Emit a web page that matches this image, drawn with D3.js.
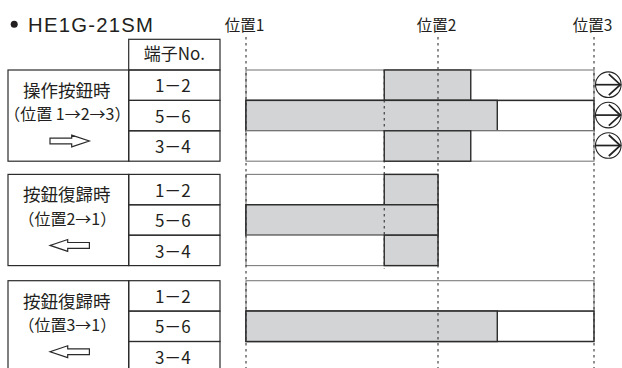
<!DOCTYPE html>
<html>
<head>
<meta charset="utf-8">
<script src="https://cdn.jsdelivr.net/npm/d3@7"></script>
<style>
  html, body { margin: 0; padding: 0; background: #fff; }
  svg { display: block; }
  text { font-family: "Noto Sans CJK JP", "Noto Sans", sans-serif; fill: #231f20; }
</style>
</head>
<body>
<script>
// ---------- data ----------
const chartTitle = "HE1G-21SM";
const headerLabel = "端子No.";
const positionLabels = ["位置1", "位置2", "位置3"];
const positionValues = [1, 2, 3];
const terminals = ["1－2", "5－6", "3－4"];
const groupTitles = ["操作按鈕時", "按鈕復歸時", "按鈕復歸時"];
const groupSubtitles = ["（位置 1→2→3）", "（位置2→1）", "（位置3→1）"];
const groupDirections = ["right", "left", "left"];
// travel extent of each group (in position units)
const groupExtents = [[1, 3], [1, 2], [1, 3]];
// whether each terminal row has an outline bar, per group
const rowDrawn = [[true, true, true], [true, true, true], [true, true, false]];
// ON (closed) intervals for each terminal, per group (null = never on)
const onIntervals = [
  [[1.72, 2.21], [1, 2.38], [1.72, 2.21]],
  [[1.72, 2], [1, 2], [1.72, 2]],
  [null, [1, 2.38], null]
];
const intermediatePosition = 1.72;
const overtravelMarks = [true, true, true]; // circled arrows in group 1

// ---------- layout ----------
const W = 622, H = 368;
const svg = d3.select("body").append("svg").attr("width", W).attr("height", H);

const x = d3.scaleLinear().domain(positionValues).range([246, 438, 594]);
const groupTops = [70, 174.4, 280.7];
const rowH = 30.4;
const tblL = 8, tblDiv = 128.7, tblR = 220;
const lineColor = "#2b2b2b";
const greyLine = "#7d7d7d";
const fillOn = "#d3d4d5";

// title
svg.append("circle").attr("cx", 14.2).attr("cy", 24.3).attr("r", 3.5).attr("fill", "#231f20");
svg.append("text").attr("x", 28).attr("y", 31.6)
  .style("font-family", "'Liberation Sans', Arial, sans-serif")
  .attr("font-size", 20.3).attr("textLength", 125).attr("lengthAdjust", "spacing")
  .text(chartTitle);

// position labels
svg.selectAll("text.pos").data(positionLabels).join("text")
  .attr("class", "pos")
  .attr("x", (d, i) => x(positionValues[i]) - 1.5)
  .attr("y", 30.5)
  .attr("text-anchor", "middle")
  .attr("font-size", 15.5)
  .text(d => d);

// header cell
svg.append("rect").attr("x", tblDiv).attr("y", 39.3).attr("width", tblR - tblDiv).attr("height", 70 - 39.3)
  .attr("fill", "none").attr("stroke", lineColor).attr("stroke-width", 1.2);
svg.append("text").attr("x", (tblDiv + tblR) / 2).attr("y", 59.5).attr("text-anchor", "middle")
  .attr("font-size", 17).text(headerLabel);

// groups
groupTitles.forEach((title, g) => {
  const top = groupTops[g];
  const gg = svg.append("g");
  // left box
  gg.append("rect").attr("x", tblL).attr("y", top).attr("width", tblDiv - tblL).attr("height", rowH * 3)
    .attr("fill", "none").attr("stroke", lineColor).attr("stroke-width", 1.2);
  const cx = (tblL + tblDiv) / 2 - 1.5;
  gg.append("text").attr("text-anchor", "middle").attr("x", cx).attr("y", top + 27)
    .attr("font-size", 17.5).text(title);
  gg.append("text").attr("text-anchor", "middle").attr("x", cx + 0.5).attr("y", top + 50.3)
    .attr("font-size", 16).text(groupSubtitles[g]);
  // hollow arrow
  const ay = top + 71, ax = 69.7;
  const pts = [[-19.7, -2.9], [2, -2.9], [2, -5.9], [19.6, 0], [2, 5.9], [2, 2.9], [-19.7, 2.9]];
  const sgn = groupDirections[g] === "right" ? 1 : -1;
  gg.append("path")
    .attr("d", "M" + pts.map(p => [ax + sgn * p[0], ay + p[1]].join(",")).join("L") + "Z")
    .attr("fill", "#fff").attr("stroke", lineColor).attr("stroke-width", 1.2);

  terminals.forEach((tl, r) => {
    const y0 = top + r * rowH;
    gg.append("rect").attr("x", tblDiv).attr("y", y0).attr("width", tblR - tblDiv).attr("height", rowH)
      .attr("fill", "none").attr("stroke", lineColor).attr("stroke-width", 1.2);
    gg.append("text").attr("x", (tblDiv + tblR) / 2 - 1.5).attr("y", y0 + 22.3).attr("text-anchor", "middle")
      .attr("font-size", 17).text(tl);

    // bars
    const ext = groupExtents[g];
    const on = onIntervals[g][r];
    if (rowDrawn[g][r]) {
      const fullOn = on && on[0] === ext[0];
      gg.append("rect").attr("x", x(ext[0])).attr("y", y0).attr("width", x(ext[1]) - x(ext[0])).attr("height", rowH)
        .attr("fill", "#fff").attr("stroke", fullOn ? lineColor : greyLine).attr("stroke-width", fullOn ? 1.5 : 1.1);
    }
    if (on) {
      gg.append("rect").attr("x", x(on[0])).attr("y", y0).attr("width", x(on[1]) - x(on[0])).attr("height", rowH)
        .attr("fill", fillOn).attr("stroke", lineColor).attr("stroke-width", 1.4);
    }
  });
});

// dotted position lines
positionValues.forEach(p => {
  svg.append("line").attr("x1", x(p)).attr("x2", x(p)).attr("y1", 37).attr("y2", H)
    .attr("stroke", "#333").attr("stroke-width", 1.1).attr("stroke-dasharray", "2.5,3.5");
});
svg.append("line").attr("x1", x(intermediatePosition)).attr("x2", x(intermediatePosition))
  .attr("y1", groupTops[0]).attr("y2", groupTops[1] + 3 * rowH + 3)
  .attr("stroke", "#333").attr("stroke-width", 1.1).attr("stroke-dasharray", "2.5,3.5");

// circled arrows (overtravel) for group 1
overtravelMarks.forEach((m, r) => {
  if (!m) return;
  const cy = groupTops[0] + r * rowH + rowH / 2 - 0.5;
  const cx = 608.3, rad = 12.8;
  const g = svg.append("g").attr("fill", "none").attr("stroke", "#222");
  g.append("circle").attr("cx", cx).attr("cy", cy).attr("r", rad).attr("fill", "#fff").attr("stroke-width", 1.1);
  g.append("line").attr("x1", cx - rad).attr("x2", cx + rad - 0.5).attr("y1", cy).attr("y2", cy).attr("stroke-width", 1.7);
  g.append("path").attr("d", `M${cx + 0.5},${cy - 10.5}L${cx + rad - 0.8},${cy}L${cx + 0.5},${cy + 10.5}`)
    .attr("stroke-width", 1.7);
});
</script>
</body>
</html>
